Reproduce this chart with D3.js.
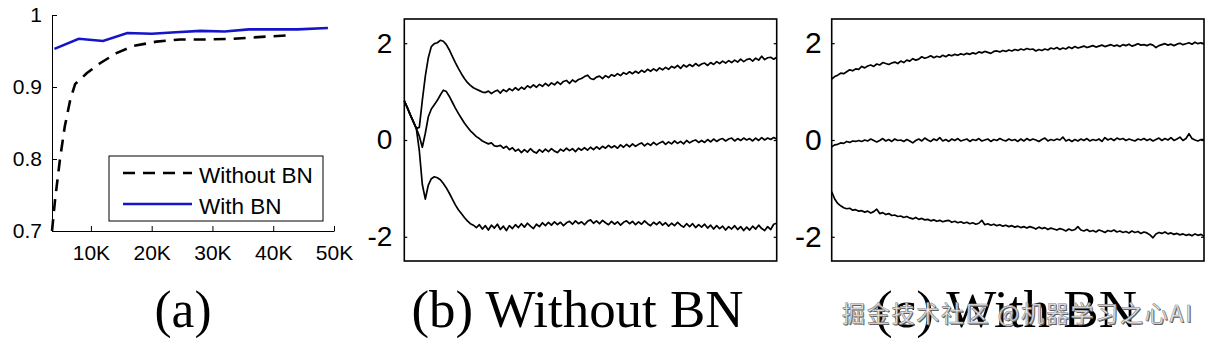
<!DOCTYPE html>
<html>
<head>
<meta charset="utf-8">
<script src="https://cdn.jsdelivr.net/npm/d3@7"></script>
<style>
  body { margin: 0; background: #fff; }
  svg { display: block; }
  .axis-a text { font-family: "Liberation Sans", Arial, sans-serif; font-size: 21px; fill: #000; }
  .axis-a path, .axis-a line { stroke: #000; stroke-width: 1; }
  .axis-bc text { font-family: "Liberation Sans", Arial, sans-serif; fill: #000; }
  .axis-bc path { display: none; }
  .axis-bc line { stroke: #000; stroke-width: 1.2; }
  .caption { font-family: "Liberation Serif", "Times New Roman", serif; font-size: 52px; fill: #000; }
</style>
</head>
<body>
<script>
// ---- panel (a): test accuracy vs training steps (K = thousands) ----
var withoutSteps = [3.6, 4.1, 4.9, 5.7, 6.6, 7.4, 9.3, 11.5, 14.2, 17, 20.8, 24.7, 29, 33.4, 38.9, 43.3];
var withoutAcc   = [0.700, 0.743, 0.799, 0.845, 0.882, 0.904, 0.919, 0.933, 0.947, 0.957, 0.963, 0.966, 0.966, 0.967, 0.970, 0.972];

var withSteps = [4, 8, 12, 16, 20, 24, 28, 32, 36, 40, 44, 49];
var withAcc   = [0.953, 0.967, 0.964, 0.975, 0.974, 0.976, 0.978, 0.977, 0.980, 0.980, 0.980, 0.982];

var xTicksA = [10, 20, 30, 40, 50];
var xTickLabelsA = ["10K", "20K", "30K", "40K", "50K"];
var yTicksA = [0.7, 0.8, 0.9, 1];
var yTickLabelsA = ["0.7", "0.8", "0.9", "1"];

var legendLabels = ["Without BN", "With BN"];

// ---- panels (b) and (c): 15/50/85th percentiles of an input to a sigmoid ----
var bTop = [0.81, 0.67, 0.52, 0.38, 0.24, 0.26, 0.82, 1.32, 1.70, 1.93,
  1.99, 2.01, 2.06, 2.04, 1.97, 1.86, 1.73, 1.60, 1.48, 1.37,
  1.27, 1.19, 1.13, 1.08, 1.05, 1.02, 0.99, 0.98, 1.01, 0.96,
  1.00, 1.03, 0.97, 1.04, 1.00, 1.06, 1.02, 1.08, 1.03, 1.09,
  1.05, 1.12, 1.08, 1.14, 1.09, 1.15, 1.11, 1.17, 1.12, 1.18,
  1.14, 1.20, 1.15, 1.21, 1.23, 1.17, 1.24, 1.20, 1.25, 1.27,
  1.31, 1.34, 1.27, 1.25, 1.30, 1.32, 1.27, 1.33, 1.29, 1.35,
  1.32, 1.37, 1.33, 1.39, 1.36, 1.41, 1.37, 1.42, 1.38, 1.44,
  1.40, 1.46, 1.42, 1.47, 1.43, 1.49, 1.45, 1.50, 1.46, 1.52,
  1.49, 1.54, 1.48, 1.55, 1.51, 1.56, 1.52, 1.58, 1.53, 1.57,
  1.59, 1.54, 1.60, 1.56, 1.62, 1.58, 1.63, 1.59, 1.64, 1.60,
  1.65, 1.61, 1.67, 1.62, 1.66, 1.68, 1.63, 1.69, 1.65, 1.73,
  1.66, 1.70, 1.71, 1.67, 1.71];

var bMid = [0.81, 0.67, 0.52, 0.38, 0.24, 0.08, -0.15, 0.14, 0.48, 0.64,
  0.73, 0.82, 0.93, 1.03, 1.00, 0.90, 0.78, 0.66, 0.55, 0.45,
  0.35, 0.27, 0.19, 0.13, 0.07, 0.03, -0.02, -0.05, -0.08, -0.06,
  -0.12, -0.13, -0.11, -0.17, -0.13, -0.20, -0.16, -0.23, -0.19, -0.26,
  -0.20, -0.25, -0.18, -0.24, -0.27, -0.20, -0.25, -0.19, -0.24, -0.18,
  -0.23, -0.26, -0.19, -0.23, -0.17, -0.22, -0.18, -0.24, -0.17, -0.21,
  -0.16, -0.21, -0.15, -0.20, -0.14, -0.19, -0.13, -0.17, -0.11, -0.16,
  -0.12, -0.17, -0.10, -0.15, -0.09, -0.14, -0.08, -0.13, -0.09, -0.06,
  -0.12, -0.07, -0.11, -0.05, -0.10, -0.06, -0.03, -0.09, -0.04, -0.08,
  -0.02, -0.07, -0.03, -0.08, -0.01, -0.06, -0.02, 0.00, -0.05, -0.01,
  -0.05, 0.01, -0.04, 0.02, -0.03, 0.01, 0.03, -0.02, 0.02, 0.04,
  -0.02, 0.03, -0.01, 0.04, 0.00, 0.03, -0.02, 0.04, -0.01, 0.05,
  0.00, 0.04, 0.01, 0.05, 0.02];

var bBot = [0.81, 0.67, 0.52, 0.38, 0.24, -0.22, -0.92, -1.22, -0.93, -0.80,
  -0.76, -0.78, -0.82, -0.90, -0.99, -1.10, -1.22, -1.34, -1.44, -1.52,
  -1.60, -1.67, -1.73, -1.76, -1.81, -1.75, -1.84, -1.77, -1.86, -1.76,
  -1.82, -1.74, -1.85, -1.78, -1.87, -1.77, -1.83, -1.75, -1.81, -1.73,
  -1.80, -1.72, -1.78, -1.83, -1.74, -1.79, -1.71, -1.77, -1.70, -1.76,
  -1.69, -1.75, -1.70, -1.77, -1.71, -1.68, -1.74, -1.67, -1.73, -1.69,
  -1.75, -1.68, -1.65, -1.72, -1.67, -1.73, -1.66, -1.71, -1.75, -1.68,
  -1.74, -1.69, -1.76, -1.70, -1.67, -1.73, -1.68, -1.75, -1.69, -1.74,
  -1.67, -1.73, -1.77, -1.70, -1.75, -1.69, -1.76, -1.71, -1.78, -1.72,
  -1.77, -1.70, -1.76, -1.80, -1.73, -1.79, -1.73, -1.81, -1.75, -1.80,
  -1.74, -1.82, -1.76, -1.84, -1.77, -1.83, -1.78, -1.86, -1.79, -1.84,
  -1.77, -1.85, -1.79, -1.87, -1.80, -1.86, -1.78, -1.84, -1.76, -1.83,
  -1.87, -1.79, -1.85, -1.74, -1.72];

var cTop = [1.26, 1.31, 1.34, 1.38, 1.37, 1.41, 1.45, 1.43, 1.47, 1.46,
  1.52, 1.49, 1.53, 1.55, 1.52, 1.57, 1.55, 1.60, 1.58, 1.56,
  1.59, 1.61, 1.58, 1.63, 1.60, 1.65, 1.63, 1.68, 1.65, 1.67,
  1.72, 1.69, 1.71, 1.74, 1.70, 1.73, 1.71, 1.75, 1.72, 1.76,
  1.74, 1.77, 1.75, 1.78, 1.76, 1.79, 1.77, 1.80, 1.78, 1.82,
  1.80, 1.83, 1.81, 1.79, 1.83, 1.84, 1.82, 1.85, 1.83, 1.86,
  1.84, 1.87, 1.85, 1.88, 1.86, 1.89, 1.87, 1.88, 1.84, 1.87,
  1.85, 1.88, 1.86, 1.90, 1.88, 1.91, 1.87, 1.90, 1.88, 1.92,
  1.89, 1.93, 1.90, 1.92, 1.94, 1.91, 1.93, 1.95, 1.92, 1.94,
  1.96, 1.93, 1.95, 1.97, 1.94, 1.96, 1.93, 1.97, 1.95, 1.98,
  1.94, 1.96, 1.99, 1.96, 1.97, 1.95, 1.98, 1.96, 1.91, 1.95,
  1.97, 1.99, 1.96, 1.98, 1.95, 1.98, 2.00, 1.97, 1.99, 2.01,
  1.98, 2.02, 1.99, 2.01, 1.99];

var cMid = [-0.14, -0.10, -0.09, -0.06, -0.07, -0.03, -0.05, -0.02, -0.03, -0.01,
  -0.03, 0.00, -0.02, 0.02, -0.01, -0.04, -0.01, 0.03, -0.02, 0.01,
  -0.03, 0.02, -0.01, 0.00, -0.03, 0.01, -0.02, -0.06, -0.01, 0.02,
  -0.02, 0.04, 0.00, -0.03, 0.02, -0.01, 0.05, -0.02, 0.01, -0.03,
  0.02, -0.01, 0.03, -0.02, 0.00, 0.02, -0.03, 0.01, -0.01, 0.03,
  -0.02, 0.00, 0.02, -0.03, 0.01, -0.01, 0.03, 0.00, -0.02, 0.02,
  -0.01, 0.01, -0.03, 0.02, -0.02, 0.03, -0.01, 0.02, 0.00, -0.03,
  0.01, 0.04, -0.02, 0.01, -0.01, 0.02, 0.00, 0.06, -0.02, 0.01,
  -0.03, 0.01, -0.02, 0.02, -0.01, 0.03, -0.02, 0.01, -0.01, 0.02,
  -0.03, 0.05, 0.00, 0.03, -0.01, 0.04, 0.01, 0.03, -0.01, 0.02,
  0.00, -0.02, 0.02, 0.00, 0.03, -0.01, 0.02, -0.02, 0.01, 0.04,
  -0.01, 0.03, 0.00, 0.05, -0.01, 0.02, 0.06, -0.01, 0.03, 0.13,
  0.03, 0.00, -0.02, 0.01, 0.01];

var cBot = [-1.07, -1.22, -1.31, -1.36, -1.40, -1.42, -1.41, -1.45, -1.44, -1.47,
  -1.46, -1.49, -1.47, -1.51, -1.48, -1.43, -1.52, -1.50, -1.54, -1.52,
  -1.56, -1.55, -1.58, -1.57, -1.60, -1.58, -1.61, -1.63, -1.60, -1.64,
  -1.62, -1.65, -1.64, -1.67, -1.65, -1.68, -1.66, -1.69, -1.67, -1.66,
  -1.70, -1.68, -1.71, -1.69, -1.72, -1.70, -1.73, -1.71, -1.74, -1.72,
  -1.66, -1.75, -1.73, -1.76, -1.74, -1.77, -1.75, -1.78, -1.76, -1.79,
  -1.77, -1.80, -1.78, -1.81, -1.79, -1.82, -1.79, -1.81, -1.84, -1.80,
  -1.83, -1.81, -1.85, -1.82, -1.84, -1.86, -1.83, -1.85, -1.88, -1.84,
  -1.87, -1.85, -1.79, -1.86, -1.88, -1.85, -1.89, -1.87, -1.90, -1.86,
  -1.88, -1.91, -1.87, -1.89, -1.86, -1.90, -1.88, -1.91, -1.89, -1.92,
  -1.88, -1.91, -1.89, -1.93, -1.90, -1.92, -1.96, -2.02, -1.94, -1.91,
  -1.93, -1.90, -1.94, -1.92, -1.95, -1.93, -1.96, -1.94, -1.97, -1.95,
  -1.98, -1.94, -1.97, -1.95, -1.99];

var bcTicks = [-2, 0, 2];
var bcTickLabels = ["-2", "0", "2"];

var captions = ["(a)", "(b) Without BN", "(c) With BN"];
var watermark = "掘金技术社区 @机器学习之心AI";

var svgWidth = 1215;
var svgHeight = 344;

var svg = d3.select("body")
  .append("svg")
  .attr("width", svgWidth)
  .attr("height", svgHeight);

// ================= panel (a) =================
var xA = d3.scaleLinear().domain([3.6, 50]).range([52, 334]);
var yA = d3.scaleLinear().domain([0.7, 1]).range([231, 15]);

var axisYA = d3.axisLeft(yA)
  .tickValues(yTicksA)
  .tickFormat(function(d, i) { return yTickLabelsA[i]; })
  .tickSize(-5)
  .tickSizeOuter(0)
  .tickPadding(10);

var axisXA = d3.axisBottom(xA)
  .tickValues(xTicksA)
  .tickFormat(function(d, i) { return xTickLabelsA[i]; })
  .tickSize(-5)
  .tickSizeOuter(0)
  .tickPadding(14);

svg.append("g")
  .attr("class", "axis-a")
  .attr("transform", "translate(" + xA.range()[0] + ",0)")
  .call(axisYA);

svg.append("g")
  .attr("class", "axis-a")
  .attr("transform", "translate(0," + yA.range()[0] + ")")
  .call(axisXA);

var lineWithout = d3.line()
  .x(function(d, i) { return xA(withoutSteps[i]); })
  .y(function(d) { return yA(d); });

var lineWith = d3.line()
  .x(function(d, i) { return xA(withSteps[i]); })
  .y(function(d) { return yA(d); });

svg.append("path")
  .datum(withoutAcc)
  .attr("d", lineWithout)
  .attr("fill", "none")
  .attr("stroke", "#000")
  .attr("stroke-width", 2.6)
  .attr("stroke-dasharray", "12,8");

svg.append("path")
  .datum(withAcc)
  .attr("d", lineWith)
  .attr("fill", "none")
  .attr("stroke", "#1515c8")
  .attr("stroke-width", 2.6);

// legend
var legend = svg.append("g").attr("transform", "translate(109,156)");
legend.append("rect")
  .attr("width", 214)
  .attr("height", 65)
  .attr("fill", "#fff")
  .attr("stroke", "#000")
  .attr("stroke-width", 1);

var legendStyles = [
  { color: "#000", dash: "12,8" },
  { color: "#1515c8", dash: null }
];

legendLabels.forEach(function(label, i) {
  var row = legend.append("g").attr("transform", "translate(0," + (17 + i * 31) + ")");
  row.append("line")
    .attr("x1", 14).attr("x2", 83)
    .attr("stroke", legendStyles[i].color)
    .attr("stroke-width", 2.6)
    .attr("stroke-dasharray", legendStyles[i].dash);
  row.append("text")
    .attr("x", 90)
    .attr("y", 10)
    .style("font-family", "Liberation Sans, Arial, sans-serif")
    .style("font-size", "22.5px")
    .text(label);
});

// ================= panels (b) and (c) =================
function drawPanel(left, right, series, labelSize, labelPad) {
  var n = series[0].length;
  var x = d3.scaleLinear().domain([0, n - 1]).range([left, right]);
  var y = d3.scaleLinear().domain([-2.5, 2.5]).range([261, 19]);

  svg.append("g")
    .attr("class", "axis-bc")
    .attr("transform", "translate(" + left + ",0)")
    .call(d3.axisLeft(y).tickValues(bcTicks).tickSize(-3).tickPadding(labelPad)
      .tickFormat(function(d, i) { return bcTickLabels[i]; }))
    .selectAll("text")
    .style("font-size", labelSize + "px");

  svg.append("g")
    .attr("class", "axis-bc")
    .attr("transform", "translate(" + right + ",0)")
    .call(d3.axisRight(y).tickValues(bcTicks).tickSize(-3).tickFormat(""));

  var line = d3.line()
    .x(function(d, i) { return x(i); })
    .y(function(d) { return y(d); });

  series.forEach(function(s) {
    svg.append("path")
      .datum(s)
      .attr("d", line)
      .attr("fill", "none")
      .attr("stroke", "#000")
      .attr("stroke-width", 1.7)
      .attr("stroke-linejoin", "round");
  });

  svg.append("rect")
    .attr("x", left)
    .attr("y", y(2.5))
    .attr("width", right - left)
    .attr("height", y(-2.5) - y(2.5))
    .attr("fill", "none")
    .attr("stroke", "#000")
    .attr("stroke-width", 1.6);
}

drawPanel(404.3, 776.7, [bTop, bMid, bBot], 28, 12);
drawPanel(831.7, 1204, [cTop, cMid, cBot], 30, 10);

// ================= captions =================
var captionX = [183, 577.5, 1006];
var captionW = [57, 332, 262];
captions.forEach(function(c, i) {
  svg.append("text")
    .attr("class", "caption")
    .attr("x", captionX[i] - captionW[i] / 2)
    .attr("y", 327)
    .attr("textLength", captionW[i])
    .attr("lengthAdjust", "spacingAndGlyphs")
    .text(c);
});

// watermark over panel (c) caption
var wm = svg.append("g").style("font-family", "Noto Sans CJK SC, sans-serif").style("font-size", "23px");
wm.append("text")
  .attr("x", 843).attr("y", 323)
  .attr("textLength", 350).attr("lengthAdjust", "spacing")
  .attr("fill", "#555")
  .text(watermark);
wm.append("text")
  .attr("x", 842).attr("y", 322)
  .attr("textLength", 350).attr("lengthAdjust", "spacing")
  .attr("fill", "#ececec")
  .attr("stroke", "#8a8a8a")
  .attr("stroke-width", 0.6)
  .text(watermark);
</script>
</body>
</html>
